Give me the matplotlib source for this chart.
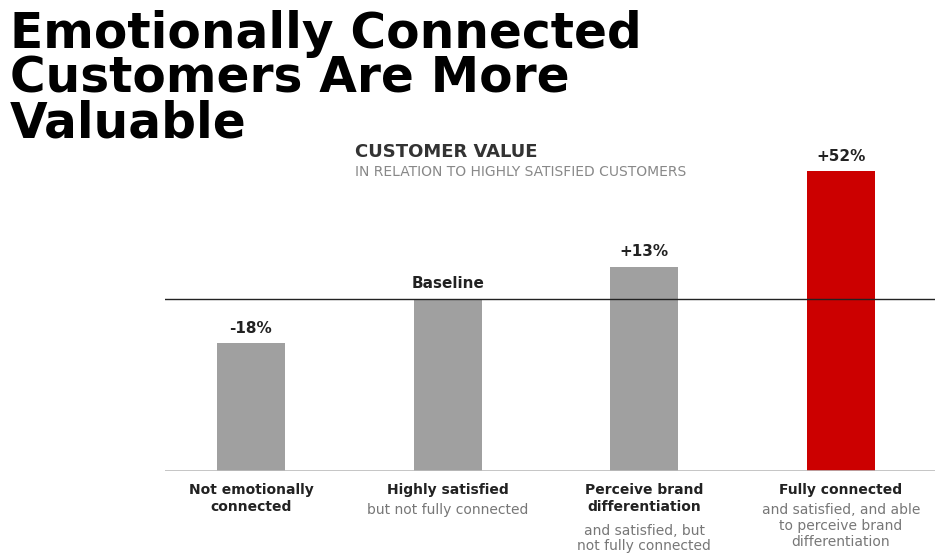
import matplotlib
matplotlib.use("Agg")
import matplotlib.pyplot as plt

categories = ["Not emotionally\nconnected", "Highly satisfied", "Perceive brand\ndifferentiation", "Fully connected"]
subtitles = ["", "but not fully connected", "and satisfied, but\nnot fully connected", "and satisfied, and able\nto perceive brand\ndifferentiation"]
values = [-18, 0, 13, 52]
labels = ["-18%", "Baseline", "+13%", "+52%"]
colors = ["#a0a0a0", "#a0a0a0", "#a0a0a0", "#cc0000"]

W, H = 945, 553
fig = plt.figure(figsize=(9.45, 5.53), dpi=100)
fig.patch.set_facecolor("white")
ax = fig.add_axes([165 / W, 1 - 471 / H, (935 - 165) / W, (471 - 150) / H])
bottom = -70
x = list(range(len(values)))
ax.bar(x, [v - bottom for v in values], bottom=bottom, width=0.346, color=colors, zorder=2)
ax.set_xlim(-0.437, 3.478)
ax.set_ylim(bottom, (471 - 150) / 2.46 + bottom)
ax.axhline(0, color="#222222", lw=1, zorder=3)
ax.axhline(bottom, color="#bbbbbb", lw=1.2, zorder=3)
for s in ax.spines.values():
    s.set_visible(False)
ax.set_xticks([]); ax.set_yticks([])
for xi, v, l in zip(x, values, labels):
    ax.text(xi, v + 3, l, ha="center", va="bottom", fontsize=11, fontweight="bold", color="#222222")
for xi, c, s in zip(x, categories, subtitles):
    ax.text(xi, bottom - 5, c, ha="center", va="top", fontsize=10, fontweight="bold",
            color="#222222", linespacing=1.2)
    n = c.count("\n") + 1
    ax.annotate(s, (xi, bottom - 5), xytext=(0, -n * 14.5), textcoords="offset points",
                ha="center", va="top", fontsize=10, color="#777777", linespacing=1.15,
                annotation_clip=False)

fig.text(10 / W, 1 - 10 / H, "Emotionally Connected\nCustomers Are More\nValuable", ha="left", va="top",
         fontsize=35, fontweight="heavy", color="black", linespacing=0.92, family="DejaVu Sans")
fig.text(355 / W, 1 - 152 / H, "CUSTOMER VALUE", ha="left", va="center", fontsize=13,
         fontweight="bold", color="#333333")
fig.text(355 / W, 1 - 172 / H, "IN RELATION TO HIGHLY SATISFIED CUSTOMERS", ha="left", va="center",
         fontsize=10, color="#888888")
fig.savefig("out.png", dpi=100)
